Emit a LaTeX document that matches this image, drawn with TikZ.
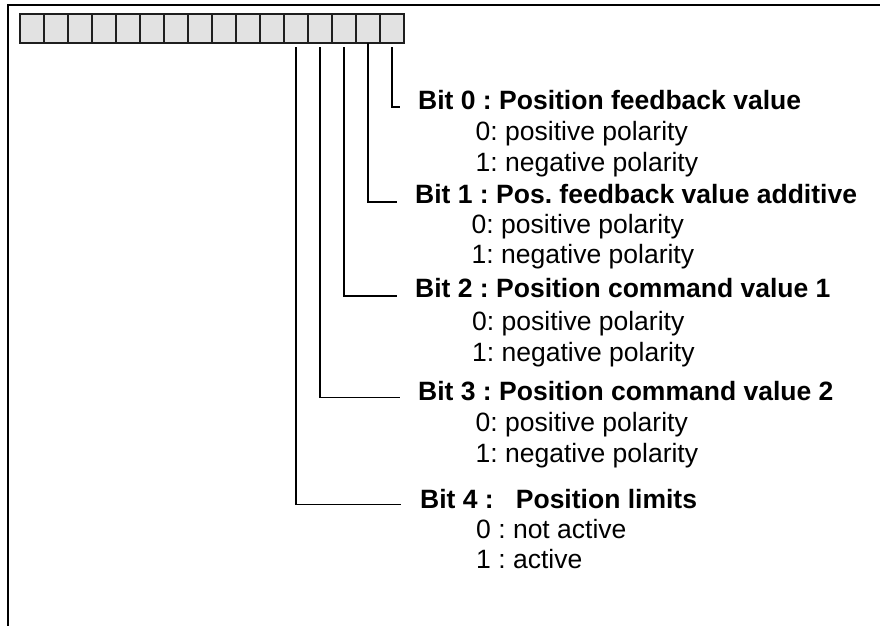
\documentclass[tikz,border=0pt]{standalone}
\usepackage{fontspec}
\setmainfont{Liberation Sans}
\frenchspacing
\definecolor{cellfill}{RGB}{226,226,226}
\definecolor{celledge}{RGB}{30,30,30}
\begin{document}
\begin{tikzpicture}[x=1pt,y=-1pt,
  cellbox/.style={draw=celledge, line width=1.4pt, fill=cellfill,
    minimum width=24pt, minimum height=29pt, inner sep=0pt, outer sep=0pt},
  bittitle/.style={anchor=base west, inner sep=0pt,
    font=\fontsize{26.5}{30}\selectfont\bfseries},
  bititem/.style={anchor=base west, inner sep=0pt,
    font=\fontsize{26.5}{30}\selectfont},
  lead/.style={draw=black, line width=1.3pt},
  frameline/.style={draw=black, line width=2pt}]
\useasboundingbox (0,0) rectangle (880,625);

% outer frame (open towards the right and bottom)
\draw[frameline] (7.7,630) |- (885,5);

% 16-bit register
\foreach \i in {0,...,15}
  \node[cellbox] (c\i) at ({32+24*\i},28.5) {};

% bit descriptions
\node[bittitle] (t0)  at (418,109) {Bit 0 : Position feedback value};
\node[bititem]  (t0a) at (475.5,140) {0: positive polarity};
\node[bititem]  (t0b) at (475.5,171) {1: negative polarity};

\node[bittitle] (t1)  at (415,203) {Bit 1 : Pos. feedback value additive};
\node[bititem]  (t1a) at (471.5,233) {0: positive polarity};
\node[bititem]  (t1b) at (471.5,263) {1: negative polarity};

\node[bittitle] (t2)  at (415,297) {Bit 2 : Position command value 1};
\node[bititem]  (t2a) at (472,330) {0: positive polarity};
\node[bititem]  (t2b) at (472,361) {1: negative polarity};

\node[bittitle] (t3)  at (418,400) {Bit 3 : Position command value 2};
\node[bititem]  (t3a) at (475.5,431) {0: positive polarity};
\node[bititem]  (t3b) at (475.5,462) {1: negative polarity};

\node[bittitle] (t4)  at (420,508) {Bit 4 :~~~Position limits};
\node[bititem]  (t4a) at (476,538) {0 : not active};
\node[bititem]  (t4b) at (476,568) {1 : active};

% leader lines from the bit cells to their descriptions
\draw[lead] ([yshift=-4pt]c15.south) |- ([xshift=-18pt,yshift=2pt]t0.base west);
\draw[lead] (c14.south) |- ([xshift=-18pt,yshift=1pt]t1.base west);
\draw[lead] ([yshift=-4pt]c13.south) |- ([xshift=-18pt,yshift=1pt]t2.base west);
\draw[lead] ([yshift=-4pt]c12.south) |- ([xshift=-18pt,yshift=2.5pt]t3.base west);
\draw[lead] ([yshift=-4pt]c11.south) |- ([xshift=-19pt,yshift=3.5pt]t4.base west);
\end{tikzpicture}
\end{document}
